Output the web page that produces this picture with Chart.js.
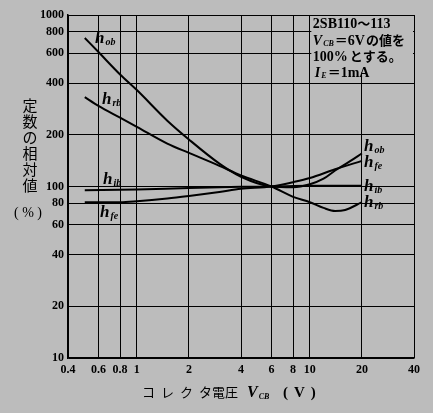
<!DOCTYPE html>
<html>
<head>
<meta charset="utf-8">
<script src="https://cdn.jsdelivr.net/npm/chart.js@4"></script>
<style>
  html, body { margin: 0; padding: 0; background: #bcbcbc; }
  #wrap { width: 433px; height: 413px; }
</style>
</head>
<body>
<div id="wrap"><canvas id="chart" width="433" height="413"></canvas></div>
<script>
// tick values
const xTicks = [0.4, 0.6, 0.8, 1, 2, 4, 6, 8, 10, 20, 40];
const yTicks = [10, 20, 40, 60, 80, 100, 200, 400, 600, 800, 1000];

// curves (V_CB in volts, relative value in %)
const hobV   = [0.5, 0.6, 0.8, 1, 1.5, 2, 3, 4, 6, 8, 10, 12, 14, 17, 20];
const hobVal = [735, 608, 450, 365, 242, 188, 136, 114, 100, 99, 103, 111, 124, 140, 156];

const hrbV   = [0.5, 0.6, 0.8, 1, 1.5, 2, 3, 4, 6, 8, 10, 12, 14, 16, 20];
const hrbVal = [332, 295, 252, 223, 178, 157, 132, 116, 100, 87, 81, 75, 72, 73, 81];

const hibV   = [0.5, 1, 2, 4, 6, 10, 20];
const hibVal = [95, 96, 98, 99.5, 100, 101, 101];

const hfeV   = [0.5, 0.8, 1, 1.5, 2, 3, 4, 6, 8, 10, 14, 20];
const hfeVal = [81, 81, 82, 85, 88, 93, 97, 100, 106, 112, 126, 141];

const BG = '#bcbcbc';
const SERIF = '"Liberation Serif", "DejaVu Serif", serif';
const JP = '"Noto Sans CJK JP", sans-serif';

function pts(xs, ys) {
  return xs.map((x, i) => ({ x: x, y: ys[i] }));
}

function line(label, xs, ys) {
  return {
    label: label,
    data: pts(xs, ys),
    borderColor: '#000',
    borderWidth: 2,
    pointRadius: 0,
    fill: false,
    cubicInterpolationMode: 'monotone'
  };
}

// draw a run of text pieces: [text, font, dy, gap]
function run(ctx, x, y, pieces) {
  pieces.forEach(p => {
    ctx.font = p[1];
    ctx.fillText(p[0], x, y + (p[2] || 0));
    x += ctx.measureText(p[0]).width + (p[3] || 0);
  });
}

function hLabel(ctx, x, y, sub) {
  run(ctx, x, y, [
    ['h', 'italic bold 17px ' + SERIF, 0, 1],
    [sub, 'italic bold 10px ' + SERIF, 2]
  ]);
}

const decor = {
  id: 'decor',
  beforeDraw(chart) {
    const c = chart.ctx;
    c.save();
    c.fillStyle = BG;
    c.fillRect(0, 0, chart.width, chart.height);
    c.restore();
  },
  beforeDatasetsDraw(chart) {
    const c = chart.ctx;
    const a = chart.chartArea;
    const xs = chart.scales.x, ys = chart.scales.y;
    // blank note box
    c.save();
    c.fillStyle = BG;
    const bx = xs.getPixelForValue(10) + 1.5;
    c.fillRect(bx, a.top + 1, a.right - bx - 1, ys.getPixelForValue(700) + 30 - a.top);
    c.restore();
  },
  afterDraw(chart) {
    const c = chart.ctx;
    const a = chart.chartArea;
    const xs = chart.scales.x;
    c.save();
    c.fillStyle = '#000';
    c.textBaseline = 'alphabetic';
    c.textAlign = 'left';

    // note box text
    const nx = xs.getPixelForValue(10) + 3;
    run(c, nx, a.top + 13, [
      ['2SB110', 'bold 14px ' + SERIF],
      ['～', 'bold 13px ' + JP],
      ['113', 'bold 14px ' + SERIF]
    ]);
    run(c, nx, a.top + 30, [
      ['V', 'italic bold 14px ' + SERIF, 0, 1],
      ['CB', 'italic bold 8px ' + SERIF, 1, 1],
      ['＝', 'bold 13px ' + JP],
      ['6V', 'bold 14px ' + SERIF, 0, 1],
      ['の値を', 'bold 13px ' + JP]
    ]);
    run(c, nx, a.top + 46, [
      ['100%', 'bold 14px ' + SERIF, 0, 2],
      ['とする。', 'bold 13px ' + JP]
    ]);
    run(c, nx + 2, a.top + 62, [
      ['I', 'italic bold 14px ' + SERIF, 0, 1],
      ['E', 'italic bold 8px ' + SERIF, 1, 1],
      ['＝', 'bold 13px ' + JP],
      ['1mA', 'bold 14px ' + SERIF]
    ]);

    // curve labels, left side
    hLabel(c, 95, 43, 'ob');
    hLabel(c, 102, 104, 'rb');
    hLabel(c, 103, 184, 'ib');
    hLabel(c, 100, 217, 'fe');
    // curve labels, right side
    const rx = xs.getPixelForValue(20) + 2;
    hLabel(c, rx, 151, 'ob');
    hLabel(c, rx, 167, 'fe');
    hLabel(c, rx, 191, 'ib');
    hLabel(c, rx, 207, 'rb');

    // y title, vertical
    c.textAlign = 'center';
    c.font = '15px ' + JP;
    const yt = ['定', '数', 'の', '相', '対', '値'];
    yt.forEach((ch, i) => c.fillText(ch, 30, 111 + i * 16));
    c.font = '14px ' + SERIF;
    c.fillText('( % )', 28, 217);

    // x title
    c.textAlign = 'left';
    c.font = '13px ' + JP;
    c.letterSpacing = '6px';
    c.fillText('コレクタ', 142, 397);
    c.letterSpacing = '0px';
    c.fillText('電圧', 212, 397);
    run(c, 247, 397, [
      ['V', 'italic bold 16px ' + SERIF, 0, 1],
      ['CB', 'italic bold 8px ' + SERIF, 2, 7],
    ]);
    c.letterSpacing = '6px';
    c.font = 'bold 15px ' + SERIF;
    c.fillText('(V)', 283, 397);
    c.restore();
  }
};

const tickFont = { family: SERIF, size: 12, weight: 'bold' };

new Chart(document.getElementById('chart').getContext('2d'), {
  type: 'line',
  data: {
    datasets: [
      line('hob', hobV, hobVal),
      line('hrb', hrbV, hrbVal),
      line('hib', hibV, hibVal),
      line('hfe', hfeV, hfeVal)
    ]
  },
  options: {
    responsive: false,
    animation: false,
    devicePixelRatio: 1,
    layout: { padding: { top: 15, right: 19, left: 0, bottom: 0 } },
    plugins: { legend: { display: false }, tooltip: { enabled: false } },
    scales: {
      x: {
        type: 'logarithmic',
        min: 0.4,
        max: 40,
        afterBuildTicks: s => { s.ticks = xTicks.map(v => ({ value: v })); },
        afterFit: s => { s.height = 55; },
        ticks: {
          autoSkip: false,
          maxRotation: 0,
          padding: 5,
          color: '#000',
          font: tickFont,
          callback: v => String(v)
        },
        grid: { color: '#000', lineWidth: 1, drawTicks: false },
        border: { color: '#000', width: 1.5 }
      },
      y: {
        type: 'logarithmic',
        min: 10,
        max: 1000,
        afterBuildTicks: s => { s.ticks = yTicks.map(v => ({ value: v })); },
        afterFit: s => { s.width = 68; },
        ticks: {
          autoSkip: false,
          padding: 4,
          color: '#000',
          font: tickFont,
          callback: v => String(v)
        },
        grid: { color: '#000', lineWidth: 1, drawTicks: false },
        border: { color: '#000', width: 1.5 }
      }
    }
  },
  plugins: [decor]
});
</script>
</body>
</html>
